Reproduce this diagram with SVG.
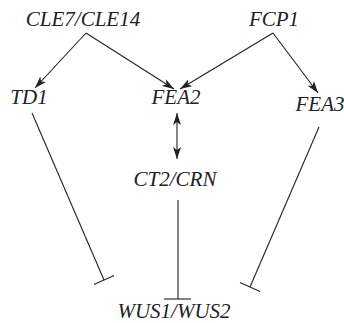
<svg xmlns="http://www.w3.org/2000/svg" width="344" height="323" viewBox="0 0 344 323">
  <style>
    .lbl { font-family: 'Liberation Serif', 'Times New Roman', serif; font-style: italic; font-size: 21px; fill: #222; }
    .edge { stroke: #222; stroke-width: 1.1; fill: none; }
  </style>
  <defs>
    <marker id="arrow" viewBox="0 0 12 8" refX="12" refY="4" markerWidth="12" markerHeight="8" markerUnits="userSpaceOnUse" orient="auto-start-reverse">
      <path d="M0,0 L12,4 L0,8 L3,4 z" fill="#222"/>
    </marker>
  </defs>
  <rect width="344" height="323" fill="#fff"/>

  <g id="connectors">
    <!-- activation arrows -->
    <line class="edge" x1="86" y1="33" x2="35" y2="88" marker-end="url(#arrow)"/>
    <line class="edge" x1="86" y1="33" x2="174" y2="89" marker-end="url(#arrow)"/>
    <line class="edge" x1="273" y1="33" x2="180" y2="89" marker-end="url(#arrow)"/>
    <line class="edge" x1="273" y1="33" x2="318" y2="93" marker-end="url(#arrow)"/>
    <!-- FEA2 <-> CT2/CRN -->
    <line class="edge" x1="177" y1="113" x2="177" y2="159" marker-start="url(#arrow)" marker-end="url(#arrow)"/>
    <!-- repression bars onto WUS1/WUS2 -->
    <line class="edge" x1="32" y1="113" x2="104" y2="280"/>
    <line class="edge" x1="94" y1="284.4" x2="114" y2="275.6"/>
    <line class="edge" x1="178" y1="200" x2="178" y2="299"/>
    <line class="edge" x1="164" y1="299" x2="191" y2="299"/>
    <line class="edge" x1="319" y1="127" x2="250" y2="287"/>
    <line class="edge" x1="240" y1="282.6" x2="260" y2="291.4"/>
  </g>

  <g id="cle7-cle14"><text class="lbl" x="83" y="26" text-anchor="middle">CLE7/CLE14</text></g>
  <g id="fcp1"><text class="lbl" x="274" y="26" text-anchor="middle">FCP1</text></g>
  <g id="td1"><text class="lbl" x="29" y="104" text-anchor="middle">TD1</text></g>
  <g id="fea2"><text class="lbl" x="176" y="104" text-anchor="middle">FEA2</text></g>
  <g id="fea3"><text class="lbl" x="320" y="111" text-anchor="middle">FEA3</text></g>
  <g id="ct2-crn"><text class="lbl" x="175" y="186" text-anchor="middle">CT2/CRN</text></g>
  <g id="wus1-wus2"><text class="lbl" x="174" y="318" text-anchor="middle">WUS1/WUS2</text></g>
</svg>
